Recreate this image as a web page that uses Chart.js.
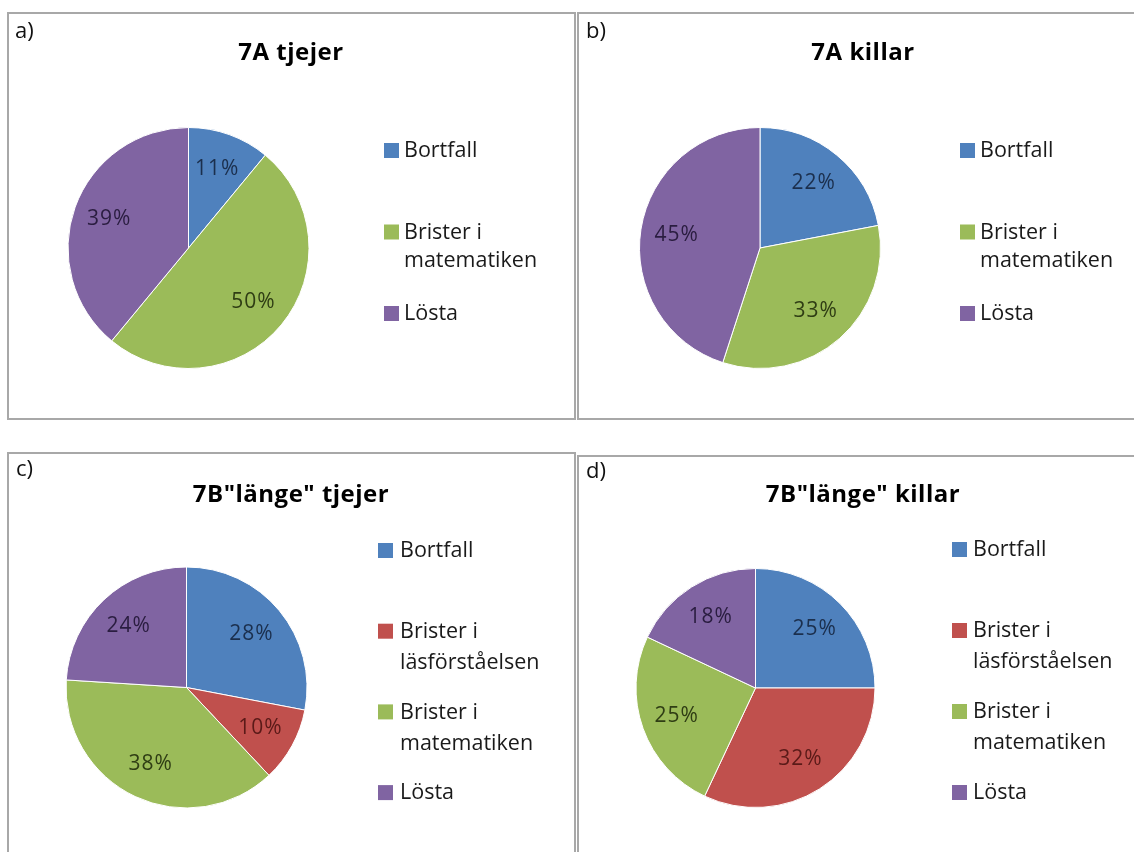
<!DOCTYPE html>
<html>
<head>
<meta charset="utf-8">
<script src="https://cdn.jsdelivr.net/npm/chart.js@4.4.1/dist/chart.umd.min.js"></script>
<style>
  html, body { margin: 0; padding: 0; background: #ffffff; }
  body { width: 1134px; height: 852px; position: relative; overflow: hidden; }
  .panel { position: absolute; box-sizing: border-box; border: 2px solid #a8a8a8; }
  canvas.layer { position: absolute; left: 0; top: 0; }
</style>
</head>
<body>
<div class="panel" style="left:7px;top:12px;width:569px;height:408px"></div>
<div class="panel" style="left:577px;top:12px;width:580px;height:408px"></div>
<div class="panel" style="left:7px;top:452px;width:569px;height:430px"></div>
<div class="panel" style="left:577px;top:455px;width:580px;height:430px"></div>
<canvas id="pieA" class="layer" width="1134" height="852"></canvas>
<canvas id="pieB" class="layer" width="1134" height="852"></canvas>
<canvas id="pieC" class="layer" width="1134" height="852"></canvas>
<canvas id="pieD" class="layer" width="1134" height="852"></canvas>
<script>
// Categories (legend entries, one array item per line of text)
const categories7A = [['Bortfall'], ['Brister i', 'matematiken'], ['Lösta']];
const categories7B = [['Bortfall'], ['Brister i', 'läsförståelsen'], ['Brister i', 'matematiken'], ['Lösta']];

// Shares in percent
const values7ATjejer = [11, 50, 39];
const values7AKillar = [22, 33, 45];
const values7BTjejer = [28, 10, 38, 24];
const values7BKillar = [25, 32, 25, 18];

const chartTitles = ['7A tjejer', '7A killar', '7B"länge" tjejer', '7B"länge" killar'];
const panelLetters = ['a)', 'b)', 'c)', 'd)'];

// Slice fills and the darker tones used for the percentage labels
const colors7A = ['#4f81bd', '#9bbb59', '#8064a2'];
const colors7B = ['#4f81bd', '#c0504d', '#9bbb59', '#8064a2'];
const labelColors7A = ['#1b2f4d', '#2f3d14', '#2a1d40'];
const labelColors7B = ['#1b2f4d', '#5a1a18', '#2f3d14', '#2a1d40'];

const PAGE_W = 1134, PAGE_H = 852;
const FONT = '"Open Sans", "Noto Sans", "DejaVu Sans", sans-serif';

// Page layout of each panel: pie centre/radius, title, letter and legend placement
const layouts = [
  { cx: 188.5, cy: 248, r: 121, title: [291, 53], letter: [15, 32],
    legend: { sq: 384, text: 404, y0: 151, step: 81.5, line: 28.5 } },
  { cx: 760, cy: 248, r: 121, title: [863, 53], letter: [586, 32],
    legend: { sq: 960, text: 980, y0: 151, step: 81.5, line: 28.5 } },
  { cx: 186.5, cy: 687.5, r: 121, title: [291, 495], letter: [16, 470],
    legend: { sq: 378, text: 400, y0: 551, step: 80.7, line: 31 } },
  { cx: 755.5, cy: 688, r: 120, title: [863, 495], letter: [586, 472],
    legend: { sq: 952, text: 973, y0: 550, step: 81, line: 31 } }
];

function spaced(ctx, px) {
  if ('letterSpacing' in ctx) ctx.letterSpacing = px + 'px';
}

// Draws title, panel letter, legend and the percentage labels
const panelDecor = {
  id: 'panelDecor',
  afterDatasetsDraw(chart, args, opts) {
    const ctx = chart.ctx;
    const L = opts.layout;
    const ds = chart.data.datasets[0];
    const meta = chart.getDatasetMeta(0);

    ctx.save();
    ctx.textBaseline = 'middle';

    // percentage labels inside the slices
    ctx.font = '21px ' + FONT;
    ctx.textAlign = 'center';
    spaced(ctx, 1);
    meta.data.forEach((arc, i) => {
      const p = arc.getProps(['x', 'y', 'startAngle', 'endAngle', 'outerRadius'], true);
      const mid = (p.startAngle + p.endAngle) / 2;
      const k = 0.7 * p.outerRadius;
      ctx.fillStyle = opts.labelColors[i];
      ctx.fillText(ds.data[i] + '%', p.x + Math.cos(mid) * k, p.y + Math.sin(mid) * k);
    });

    // title
    ctx.fillStyle = '#000000';
    ctx.font = 'bold 24px ' + FONT;
    spaced(ctx, 0.5);
    ctx.fillText(opts.title, L.title[0], L.title[1]);

    // panel letter
    ctx.textAlign = 'left';
    ctx.font = '22px ' + FONT;
    spaced(ctx, 0);
    ctx.fillStyle = '#111111';
    ctx.fillText(opts.letter, L.letter[0], L.letter[1]);

    // legend
    const lg = L.legend;
    ctx.font = '21.5px ' + FONT;
    spaced(ctx, 0);
    chart.data.labels.forEach((lines, i) => {
      const y = lg.y0 + i * lg.step;
      ctx.fillStyle = ds.backgroundColor[i];
      ctx.fillRect(lg.sq, y - 8, 15, 15);
      ctx.fillStyle = '#1a1a1a';
      lines.forEach((t, j) => ctx.fillText(t, lg.text, y + j * lg.line));
    });
    ctx.restore();
  }
};

function makePie(id, labels, values, colors, labelColors, idx) {
  const L = layouts[idx];
  return new Chart(document.getElementById(id), {
    type: 'pie',
    data: {
      labels: labels,
      datasets: [{
        data: values,
        backgroundColor: colors,
        borderColor: '#ffffff',
        borderWidth: 1
      }]
    },
    options: {
      responsive: false,
      animation: false,
      events: [],
      layout: {
        padding: {
          left: L.cx - L.r,
          top: L.cy - L.r,
          right: PAGE_W - L.cx - L.r,
          bottom: PAGE_H - L.cy - L.r
        }
      },
      plugins: {
        legend: { display: false },
        title: { display: false },
        tooltip: { enabled: false },
        panelDecor: {
          layout: L,
          title: chartTitles[idx],
          letter: panelLetters[idx],
          labelColors: labelColors
        }
      }
    },
    plugins: [panelDecor]
  });
}

makePie('pieA', categories7A, values7ATjejer, colors7A, labelColors7A, 0);
makePie('pieB', categories7A, values7AKillar, colors7A, labelColors7A, 1);
makePie('pieC', categories7B, values7BTjejer, colors7B, labelColors7B, 2);
makePie('pieD', categories7B, values7BKillar, colors7B, labelColors7B, 3);
</script>
</body>
</html>
